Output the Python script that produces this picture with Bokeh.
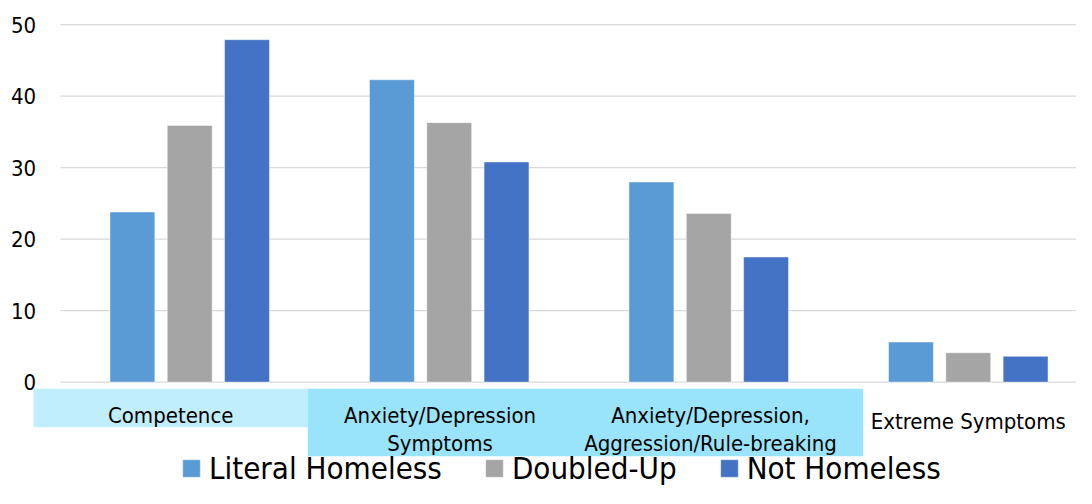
from bokeh.plotting import figure
from bokeh.models import Range1d, ColumnDataSource, Legend, LegendItem
from bokeh.core.properties import value
from bokeh.embed import file_html
from bokeh.resources import INLINE

# ---------------- data ----------------
categories = [
    "Competence",
    "Anxiety/Depression\nSymptoms",
    "Anxiety/Depression,\nAggression/Rule-breaking",
    "Extreme Symptoms",
]
series_names = ["Literal Homeless", "Doubled-Up", "Not Homeless"]
literal_homeless = [23.8, 42.3, 28.0, 5.6]
doubled_up = [35.9, 36.3, 23.6, 4.1]
not_homeless = [47.9, 30.8, 17.5, 3.6]
y_ticks = [0, 10, 20, 30, 40, 50]

# ---------------- style ----------------
colors = ["#5B9BD5", "#A5A5A5", "#4472C4"]
FONT = "DejaVu Sans Condensed"
bar_width = 0.173
bar_step = 0.2208
grid_color = "#D9D9D9"

W, H = 1076, 488
x_start, x_end = -0.2290, 3.9170
y_start, y_end = -14.885, 53.386

p = figure(width=W, height=H, output_backend="svg", toolbar_location=None,
           x_range=Range1d(x_start, x_end), y_range=Range1d(y_start, y_end),
           x_axis_type=None, y_axis_type=None,
           min_border=0, min_border_left=0, min_border_right=0,
           min_border_top=0, min_border_bottom=0)
p.outline_line_color = None
p.xgrid.visible = False
p.ygrid.visible = False
p.background_fill_color = "white"
p.border_fill_color = "white"

centers = [i + 0.5 for i in range(len(categories))]

# gridlines (at the tick values)
p.segment(x0=[0.002] * len(y_ticks), x1=[4.2] * len(y_ticks),
          y0=y_ticks, y1=y_ticks, line_color=grid_color, line_width=1.2)

# y tick labels
p.text(x=[-0.0914] * len(y_ticks), y=y_ticks, text=[str(t) for t in y_ticks],
       text_align="right", text_baseline="middle",
       text_font=value(FONT), text_font_size="22px", text_color="#000000")

# bars
renderers = []
for k, (name, vals) in enumerate(zip(series_names, [literal_homeless, doubled_up, not_homeless])):
    src = ColumnDataSource(dict(x=[c + (k - 1) * bar_step for c in centers], top=vals))
    r = p.vbar(x="x", top="top", bottom=0, width=bar_width, source=src,
               fill_color=colors[k], line_color="white", line_alpha=0.45, line_width=1)
    renderers.append(r)

# category label background boxes
box_left = [-0.1018, 0.9551]
box_right = [0.9551, 3.0951]
box_top = [-0.937, -0.937]
box_bottom = [-6.31, -10.37]
box_colors = ["#C1EEFD", "#99E4FB"]
p.quad(left=box_left, right=box_right, top=box_top, bottom=box_bottom,
       fill_color=box_colors, line_color=None)

# category labels
label_x = [0.4268, 1.4645, 2.5067, 3.4999]
line1_y = [-4.673, -4.673, -4.673, -5.47]
line_gap = 3.96
tx, ty, tt = [], [], []
for i, lab in enumerate(categories):
    for j, line in enumerate(lab.split("\n")):
        tx.append(label_x[i])
        ty.append(line1_y[i] - j * line_gap)
        tt.append(line)
p.text(x=tx, y=ty, text=tt, text_align="center", text_baseline="alphabetic",
       text_font=value(FONT), text_font_size="22px", text_color="#000000")

# legend
legend = Legend(items=[LegendItem(label=n, renderers=[r]) for n, r in zip(series_names, renderers)],
                orientation="horizontal", location=(180, 2),
                label_text_font=FONT, label_text_font_size="31px", label_text_color="#000000",
                glyph_width=22, glyph_height=22, label_standoff=7, spacing=41,
                padding=0, margin=0, border_line_color=None, background_fill_alpha=0)
p.add_layout(legend)

open("out.html", "w").write(file_html(p, INLINE))
